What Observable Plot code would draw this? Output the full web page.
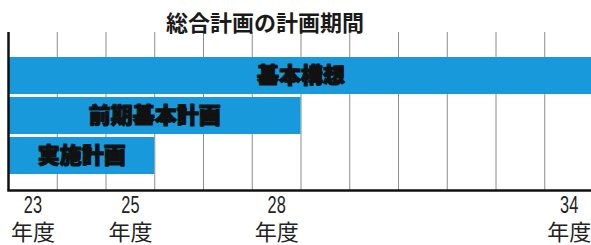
<!DOCTYPE html>
<html>
<head>
<meta charset="utf-8">
<script src="https://cdn.jsdelivr.net/npm/d3@7"></script>
<script src="https://cdn.jsdelivr.net/npm/@observablehq/plot@0.6"></script>
<style>
  html, body { margin: 0; padding: 0; background: #fff; }
  svg { display: block; }
</style>
</head>
<body>
<div id="chart"></div>
<script>
const title = "総合計画の計画期間";
const plans = ["基本構想", "前期基本計画", "実施計画"];
const planStart = [23, 23, 23];
const planEnd = [35, 29, 26];
const years = [23, 24, 25, 26, 27, 28, 29, 30, 31, 32, 33, 34];
const tickYears = [23, 25, 28, 34];
const tickUnit = "年度";

const bars = plans.map((p, i) => ({plan: p, start: planStart[i], end: planEnd[i]}));

const chart = Plot.plot({
  width: 591,
  height: 245,
  marginLeft: 8,
  marginRight: 0,
  marginTop: 32,
  marginBottom: 55,
  x: {domain: [23, 35], range: [8, 593], axis: null},
  y: {type: "band", domain: plans, range: [57, 174], paddingInner: 0.08, paddingOuter: 0, axis: null},
  style: {background: "#fff"},
  marks: [
    Plot.ruleX(years.slice(1), {stroke: "#8c8c8c", strokeWidth: 1}),
    Plot.barX(bars, {x1: "start", x2: "end", y: "plan", fill: "#1799dc"}),
    Plot.ruleX([years[0]], {stroke: "#111", strokeWidth: 2.5}),
    Plot.frame({anchor: "bottom", stroke: "#111", strokeWidth: 2.5}),
    Plot.text(bars, {
      x: d => (d.start + d.end) / 2, y: "plan", text: "plan",
      fill: "#111", stroke: "#111", strokeWidth: 1.2,
      fontSize: 22, fontWeight: 900, fontFamily: "Noto Sans CJK JP"
    }),
    Plot.text(tickYears, {
      x: d => d + 0.5, text: d => String(d), frameAnchor: "bottom", lineAnchor: "middle", dy: 15,
      fontSize: 24, fontFamily: "Liberation Sans, sans-serif",
      fill: "#222"
    }),
    Plot.text(tickYears, {
      x: d => d + 0.5, text: () => tickUnit, frameAnchor: "bottom", lineAnchor: "middle", dy: 42,
      fontSize: 22, fontWeight: 400, fontFamily: "Noto Sans CJK JP", fill: "#222"
    }),
    Plot.text([title], {
      text: d => d, frameAnchor: "top", lineAnchor: "middle", dx: -35, dy: -9,
      fontSize: 22, fontWeight: 700, fontFamily: "Noto Sans CJK JP", fill: "#1a1a1a"
    })
  ]
});
// condense the year digits horizontally, like the reference's narrow numerals
d3.select(chart).selectAll("text").each(function() {
  if (/^\d+$/.test(this.textContent.trim())) {
    const t = this.getAttribute("transform") || "";
    this.setAttribute("transform", t + " scale(0.68,1)");
  }
});
document.getElementById("chart").appendChild(chart);
</script>
</body>
</html>
